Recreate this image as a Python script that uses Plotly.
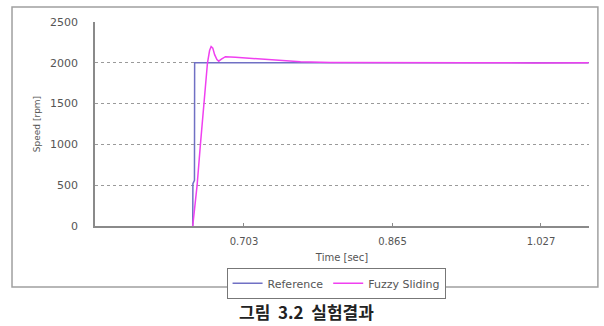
import plotly.graph_objects as go

# Data
ref_time = [0.6471, 0.6473, 0.6490, 0.6492, 1.079]
ref_speed = [0, 520, 560, 2000, 2000]

fuzzy_time = [0.6471, 0.6519, 0.6555, 0.6591, 0.6632, 0.6655, 0.6672, 0.6690, 0.6710,
              0.6735, 0.6755, 0.6784, 0.6828, 0.6937, 0.7101, 0.7264, 0.7428, 0.7646,
              0.7973, 0.8410, 0.8955, 0.9500, 1.0200, 1.079]
fuzzy_speed = [0, 500, 1000, 1500, 2000, 2150, 2200, 2180, 2100,
               2040, 2020, 2045, 2075, 2068, 2055, 2040, 2025, 2012,
               2005, 2002, 2000, 2001, 1999, 2000]

y_ticks = [0, 500, 1000, 1500, 2000, 2500]
x_ticks = [0.703, 0.865, 1.027]
x_tick_labels = ["0.703", "0.865", "1.027"]

font_family = "DejaVu Sans"
grey_text = "#555555"

fig = go.Figure()
fig.add_trace(go.Scatter(x=ref_time, y=ref_speed, mode="lines", name="Reference",
                         line=dict(color="#7070C4", width=1.5)))
fig.add_trace(go.Scatter(x=fuzzy_time, y=fuzzy_speed, mode="lines", name="Fuzzy Sliding",
                         line=dict(color="#F040F0", width=1.5)))

fig.update_layout(
    width=604, height=326,
    margin=dict(l=95, r=15, t=22, b=100),
    paper_bgcolor="white", plot_bgcolor="white",
    font=dict(family=font_family, size=10, color=grey_text),
    showlegend=True,
    legend=dict(orientation="h", x=0.488, xanchor="center", y=-0.205, yanchor="top",
                bordercolor="#777777", borderwidth=1, font=dict(size=11, color=grey_text),
                itemwidth=30, tracegroupgap=0),
    xaxis=dict(range=[0.5405, 1.0794], tickvals=x_ticks, ticktext=x_tick_labels,
               showgrid=False, zeroline=False, showline=True, linecolor="#8a8a8a", linewidth=1.5,
               ticks="inside", ticklen=3, tickcolor="#8a8a8a", ticklabelstandoff=5,
               tickfont=dict(size=10, color=grey_text),
               title=dict(text="Time [sec]", font=dict(size=10, color=grey_text), standoff=8)),
    yaxis=dict(range=[0, 2500], tickvals=y_ticks, showgrid=True, gridcolor="#9a9a9a",
               griddash="dot", gridwidth=1, zeroline=False, showline=True,
               linecolor="#8a8a8a", linewidth=1.5, ticks="", ticklabelstandoff=13,
               tickfont=dict(size=11, color=grey_text),
               title=dict(text="Speed [rpm]", font=dict(size=9, color=grey_text), standoff=8)),
)

# outer chart frame
fig.add_shape(type="rect", xref="paper", yref="paper",
              x0=-0.168, x1=1.018, y0=-0.299, y1=1.0735,
              line=dict(color="#a0a0a0", width=1.5), layer="below")

# caption
fig.add_annotation(text="<b>그림  3.2  실험결과</b>", xref="paper", yref="paper",
                   x=(306 - 95) / 494, y=(226 - 311) / 204, xanchor="center", yanchor="middle",
                   showarrow=False, font=dict(family="Noto Sans CJK KR", size=17, color="#222222"))

fig.write_html("out.html")
